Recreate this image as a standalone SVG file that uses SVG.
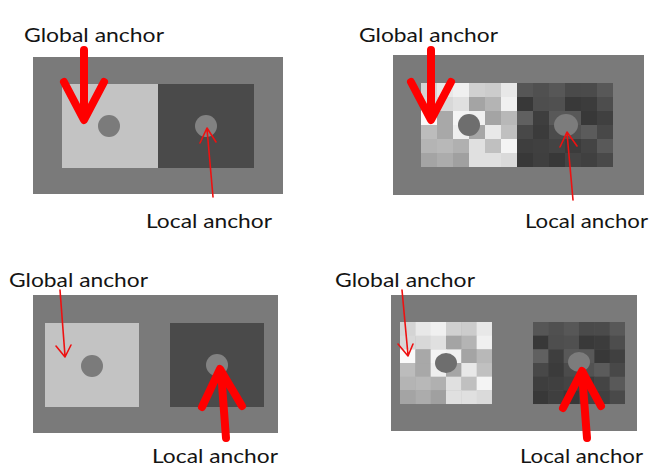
<svg xmlns="http://www.w3.org/2000/svg" width="653" height="468" viewBox="0 0 653 468">
<style>
.bg{fill:#7a7a7a}
.lt{fill:#c3c3c3}
.dk{fill:#4a4a4a}
.dot{fill:#7b7b7b}
.lbl{font-family:"Lato","Liberation Sans",sans-serif;font-size:20px;fill:#141414}
.thick{fill:none;stroke:#ff0000;stroke-width:8;stroke-linecap:round;stroke-linejoin:round}
.thin{fill:none;stroke:#ee1111;stroke-width:1.6;stroke-linecap:round;stroke-linejoin:round}
</style>
<defs>
<g id="chkL">
<rect x="0" y="0" width="1.03" height="1.03" fill="#d4d4d4"/><rect x="1" y="0" width="1.03" height="1.03" fill="#e8e8e8"/><rect x="2" y="0" width="1.03" height="1.03" fill="#f0f0f0"/><rect x="3" y="0" width="1.03" height="1.03" fill="#d0d0d0"/><rect x="4" y="0" width="1.03" height="1.03" fill="#cccccc"/><rect x="5" y="0" width="1" height="1.03" fill="#e8e8e8"/>
<rect x="0" y="1" width="1.03" height="1.03" fill="#d8d8d8"/><rect x="1" y="1" width="1.03" height="1.03" fill="#d8d8d8"/><rect x="2" y="1" width="1.03" height="1.03" fill="#e0e0e0"/><rect x="3" y="1" width="1.03" height="1.03" fill="#a4a4a4"/><rect x="4" y="1" width="1.03" height="1.03" fill="#b4b4b4"/><rect x="5" y="1" width="1" height="1.03" fill="#f0f0f0"/>
<rect x="0" y="2" width="1.03" height="1.03" fill="#fafafa"/><rect x="1" y="2" width="1.03" height="1.03" fill="#a8a8a8"/><rect x="2" y="2" width="1.03" height="1.03" fill="#f4f4f4"/><rect x="3" y="2" width="1.03" height="1.03" fill="#f0f0f0"/><rect x="4" y="2" width="1.03" height="1.03" fill="#a4a4a4"/><rect x="5" y="2" width="1" height="1.03" fill="#b8b8b8"/>
<rect x="0" y="3" width="1.03" height="1.03" fill="#bcbcbc"/><rect x="1" y="3" width="1.03" height="1.03" fill="#a8a8a8"/><rect x="2" y="3" width="1.03" height="1.03" fill="#eeeeee"/><rect x="3" y="3" width="1.03" height="1.03" fill="#a6a6a6"/><rect x="4" y="3" width="1.03" height="1.03" fill="#e8e8e8"/><rect x="5" y="3" width="1" height="1.03" fill="#c0c0c0"/>
<rect x="0" y="4" width="1.03" height="1.03" fill="#b4b4b4"/><rect x="1" y="4" width="1.03" height="1.03" fill="#b8b8b8"/><rect x="2" y="4" width="1.03" height="1.03" fill="#b0b0b0"/><rect x="3" y="4" width="1.03" height="1.03" fill="#e0e0e0"/><rect x="4" y="4" width="1.03" height="1.03" fill="#c0c0c0"/><rect x="5" y="4" width="1" height="1.03" fill="#f4f4f4"/>
<rect x="0" y="5" width="1.03" height="1" fill="#a4a4a4"/><rect x="1" y="5" width="1.03" height="1" fill="#acacac"/><rect x="2" y="5" width="1.03" height="1" fill="#a0a0a0"/><rect x="3" y="5" width="1.03" height="1" fill="#e0e0e0"/><rect x="4" y="5" width="1.03" height="1" fill="#e0e0e0"/><rect x="5" y="5" width="1" height="1" fill="#dadada"/>
</g>
<g id="chkD">
<rect x="0" y="0" width="1.03" height="1.03" fill="#565656"/><rect x="1" y="0" width="1.03" height="1.03" fill="#505050"/><rect x="2" y="0" width="1.03" height="1.03" fill="#575757"/><rect x="3" y="0" width="1.03" height="1.03" fill="#4a4a4a"/><rect x="4" y="0" width="1.03" height="1.03" fill="#4b4b4b"/><rect x="5" y="0" width="1" height="1.03" fill="#585858"/>
<rect x="0" y="1" width="1.03" height="1.03" fill="#383838"/><rect x="1" y="1" width="1.03" height="1.03" fill="#4e4e4e"/><rect x="2" y="1" width="1.03" height="1.03" fill="#505050"/><rect x="3" y="1" width="1.03" height="1.03" fill="#393939"/><rect x="4" y="1" width="1.03" height="1.03" fill="#3c3c3c"/><rect x="5" y="1" width="1" height="1.03" fill="#4d4d4d"/>
<rect x="0" y="2" width="1.03" height="1.03" fill="#606060"/><rect x="1" y="2" width="1.03" height="1.03" fill="#3e3e3e"/><rect x="2" y="2" width="1.03" height="1.03" fill="#585858"/><rect x="3" y="2" width="1.03" height="1.03" fill="#585858"/><rect x="4" y="2" width="1.03" height="1.03" fill="#383838"/><rect x="5" y="2" width="1" height="1.03" fill="#404040"/>
<rect x="0" y="3" width="1.03" height="1.03" fill="#484848"/><rect x="1" y="3" width="1.03" height="1.03" fill="#3b3b3b"/><rect x="2" y="3" width="1.03" height="1.03" fill="#4b4b4b"/><rect x="3" y="3" width="1.03" height="1.03" fill="#525252"/><rect x="4" y="3" width="1.03" height="1.03" fill="#5b5b5b"/><rect x="5" y="3" width="1" height="1.03" fill="#484848"/>
<rect x="0" y="4" width="1.03" height="1.03" fill="#3e3e3e"/><rect x="1" y="4" width="1.03" height="1.03" fill="#404040"/><rect x="2" y="4" width="1.03" height="1.03" fill="#444444"/><rect x="3" y="4" width="1.03" height="1.03" fill="#3c3c3c"/><rect x="4" y="4" width="1.03" height="1.03" fill="#444444"/><rect x="5" y="4" width="1" height="1.03" fill="#595959"/>
<rect x="0" y="5" width="1.03" height="1" fill="#383838"/><rect x="1" y="5" width="1.03" height="1" fill="#3f3f3f"/><rect x="2" y="5" width="1.03" height="1" fill="#383838"/><rect x="3" y="5" width="1.03" height="1" fill="#444444"/><rect x="4" y="5" width="1.03" height="1" fill="#404040"/><rect x="5" y="5" width="1" height="1" fill="#494949"/>
</g>
</defs>
<rect width="653" height="468" fill="#ffffff"/>

<g id="panel1">
<rect class="bg" x="33" y="57" width="250" height="137"/>
<rect class="lt" x="62" y="84" width="96" height="84"/>
<rect class="dk" x="158" y="84" width="96" height="84"/>
<ellipse class="dot" cx="109" cy="126" rx="11" ry="11"/>
<ellipse cx="206" cy="126" rx="11" ry="11" fill="#828282"/>
</g>
<g id="panel2">
<rect class="bg" x="393" y="55" width="251" height="140"/>
<use href="#chkL" transform="translate(421,83) scale(16,14)"/>
<use href="#chkD" transform="translate(517,83) scale(16,14)"/>
<ellipse cx="469" cy="125" rx="11" ry="11" fill="#6e6e6e"/>
<ellipse cx="566" cy="125" rx="12" ry="11" fill="#7c7c7c"/>
</g>
<g id="panel3">
<rect class="bg" x="33" y="295" width="245" height="138"/>
<rect class="lt" x="45" y="323" width="94" height="84"/>
<rect class="dk" x="170" y="323" width="94" height="84"/>
<ellipse class="dot" cx="92" cy="366" rx="11" ry="11"/>
<ellipse cx="217" cy="365" rx="11" ry="11" fill="#828282"/>
</g>
<g id="panel4">
<rect class="bg" x="391" y="295" width="246" height="136"/>
<use href="#chkL" transform="translate(400,322) scale(15.33,13.67)"/>
<use href="#chkD" transform="translate(533,322) scale(15.33,13.67)"/>
<ellipse cx="446" cy="363" rx="11" ry="10" fill="#6e6e6e"/>
<ellipse cx="579" cy="362" rx="11" ry="10" fill="#7c7c7c"/>
</g>

<g id="labels">
<text class="lbl" x="24" y="42" textLength="140" lengthAdjust="spacingAndGlyphs">Global anchor</text>
<text class="lbl" x="146" y="228" textLength="126" lengthAdjust="spacingAndGlyphs">Local anchor</text>
<text class="lbl" x="359" y="42" textLength="139" lengthAdjust="spacingAndGlyphs">Global anchor</text>
<text class="lbl" x="525" y="228" textLength="123" lengthAdjust="spacingAndGlyphs">Local anchor</text>
<text class="lbl" x="9" y="287" textLength="139" lengthAdjust="spacingAndGlyphs">Global anchor</text>
<text class="lbl" x="152" y="463" textLength="126" lengthAdjust="spacingAndGlyphs">Local anchor</text>
<text class="lbl" x="335" y="287" textLength="140" lengthAdjust="spacingAndGlyphs">Global anchor</text>
<text class="lbl" x="520" y="463" textLength="123" lengthAdjust="spacingAndGlyphs">Local anchor</text>
</g>

<g id="connectors">
<path class="thick" d="M84,50 L84,119 M64,82 L84,120 L104,82"/>
<path class="thin" d="M213,197 L207,129 M200,143 L207,128 L216,142"/>
<path class="thick" d="M431,50 L431,119 M411,82 L431,120 L451,82"/>
<path class="thin" d="M573,200 L567,133 M560,147 L567,132 L577,146"/>
<path class="thin" d="M60,290 L65,356 M56,346 L65,357 L71,345"/>
<path class="thick" d="M226,438 L221,371 M202,407 L220,369 L242,406"/>
<path class="thin" d="M402,290 L408,355 M398,344 L408,356 L413,344"/>
<path class="thick" d="M587,438 L582,373 M563,408 L582,371 L601,406"/>
</g>
</svg>
